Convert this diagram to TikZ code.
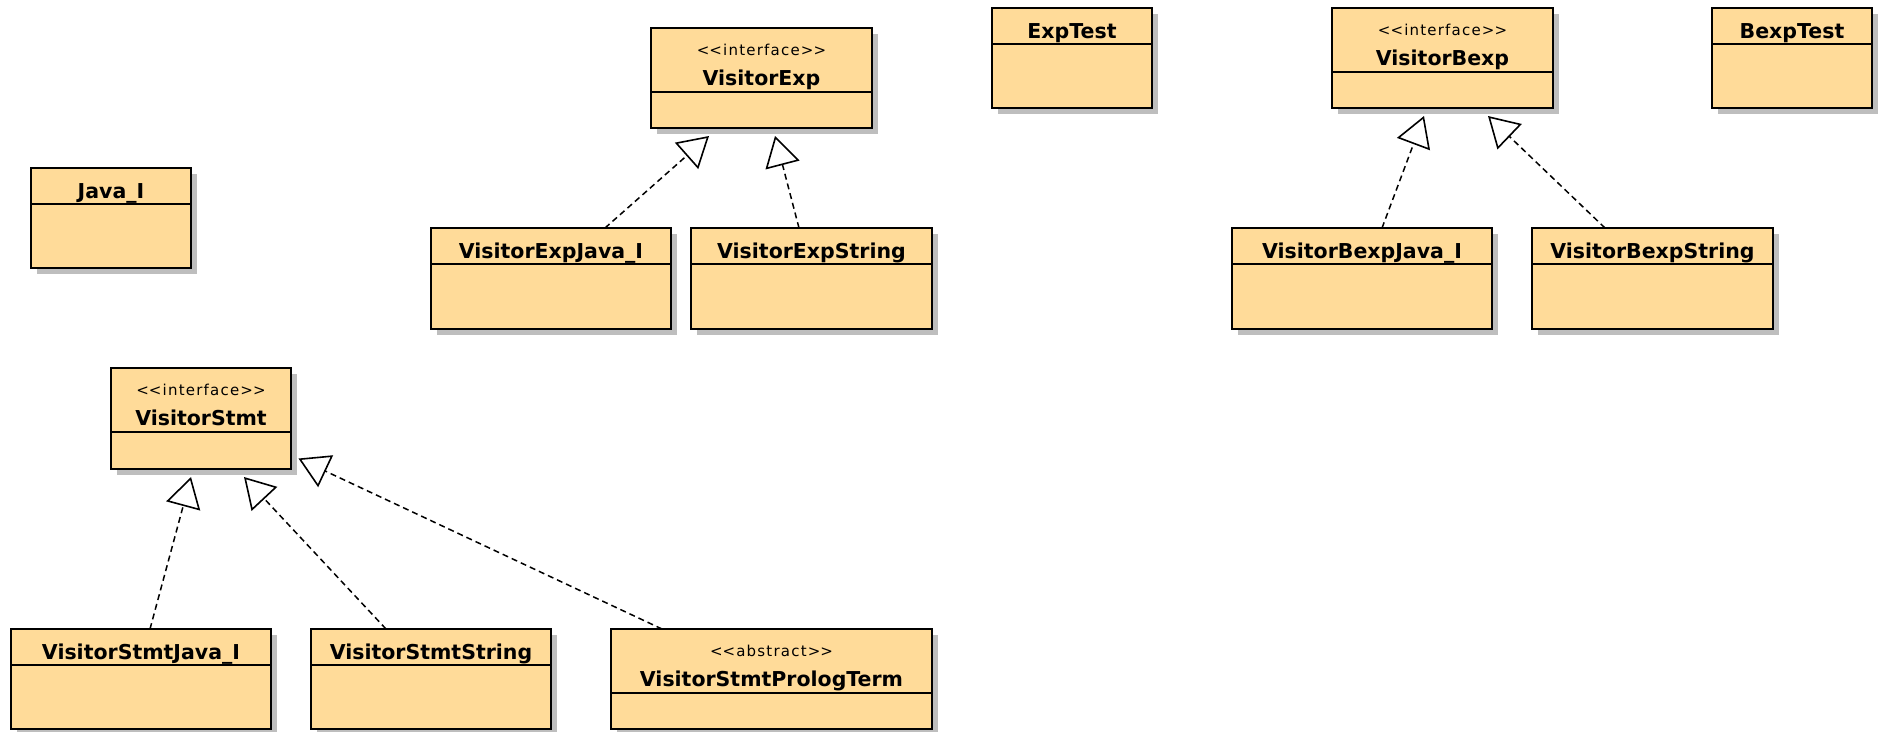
\documentclass[tikz,border=0pt]{standalone}
\usepackage{fontspec}
\setmainfont{DejaVu Sans}
\newfontfamily\stereofont[LetterSpace=8]{DejaVu Sans}
\usetikzlibrary{arrows.meta,shadows,calc}
\definecolor{classfill}{RGB}{255,219,153}
\definecolor{shadowgray}{RGB}{190,190,190}
\tikzset{
  classbox/.style={draw=black, line width=1.8pt, fill=classfill, rectangle,
    inner sep=0pt, outer sep=0pt, anchor=north west,
    general shadow={fill=shadowgray, shadow xshift=6pt, shadow yshift=-6pt}},
  divider/.style={draw=black, line width=1.6pt},
  titletext/.style={font=\fontsize{20.5}{20.5}\selectfont\bfseries, anchor=base, inner sep=0pt},
  stereotext/.style={font=\stereofont\fontsize{15}{15}\selectfont, anchor=base, inner sep=0pt},
  realize/.style={draw=black, line width=1.5pt, dash pattern=on 6pt off 4pt,
    -{Triangle[open, length=30pt, width=35pt, line width=1.6pt]}},
}
\newcommand{\umlclass}[6]{% id, x, y, w, h, title
  \node[classbox, minimum width=#4pt, minimum height=#5pt] (#1) at (#2,#3) {};
  \draw[divider] ($(#1.north west)+(0,36)$) -- ($(#1.north east)+(0,36)$);
  \node[titletext] (#1-title) at ($(#1.north)+(0,30)$) {#6};
}
\newcommand{\umliface}[7]{% id, x, y, w, h, stereotype, title
  \node[classbox, minimum width=#4pt, minimum height=#5pt] (#1) at (#2,#3) {};
  \draw[divider] ($(#1.north west)+(0,64)$) -- ($(#1.north east)+(0,64)$);
  \node[stereotext] (#1-stereo) at ($(#1.north)+(0,27)$) {#6};
  \node[titletext] (#1-title) at ($(#1.north)+(0,57)$) {#7};
}
\begin{document}
\begin{tikzpicture}[x=1pt, y=-1pt]
  \useasboundingbox[fill=white] (0,0) rectangle (1884,731);
  % simple classes
  \umlclass{java}{31}{168}{160}{100}{Java\_I}
  \umlclass{exptest}{992}{8}{160}{100}{ExpTest}
  \umlclass{bexptest}{1712}{8}{160}{100}{BexpTest}
  \umlclass{vejava}{431}{228}{240}{101}{VisitorExpJava\_I}
  \umlclass{vestring}{691}{228}{241}{101}{VisitorExpString}
  \umlclass{vbjava}{1232}{228}{260}{101}{VisitorBexpJava\_I}
  \umlclass{vbstring}{1532}{228}{241}{101}{VisitorBexpString}
  \umlclass{vsjava}{11}{629}{260}{100}{VisitorStmtJava\_I}
  \umlclass{vsstring}{311}{629}{240}{100}{VisitorStmtString}
  % interfaces / abstract
  \umliface{vexp}{651}{28}{221}{100}{<\kern0pt<interface>\kern0pt>}{VisitorExp}
  \umliface{vbexp}{1332}{8}{221}{100}{<\kern0pt<interface>\kern0pt>}{VisitorBexp}
  \umliface{vstmt}{111}{368}{180}{101}{<\kern0pt<interface>\kern0pt>}{VisitorStmt}
  \umliface{vsprolog}{611}{629}{321}{100}{<\kern0pt<abstract>\kern0pt>}{VisitorStmtPrologTerm}
  % realizations
  \draw[realize] ($(vejava.north west)+(174,0)$) -- ($(vexp.south west)+(58,8)$);
  \draw[realize] ($(vestring.north west)+(108,0)$) -- ($(vexp.south west)+(124,8)$);
  \draw[realize] ($(vbjava.north west)+(150,0)$) -- ($(vbexp.south west)+(92,8)$);
  \draw[realize] ($(vbstring.north west)+(73,0)$) -- ($(vbexp.south west)+(156,8)$);
  \draw[realize] ($(vsjava.north west)+(139,0)$) -- ($(vstmt.south west)+(80,8)$);
  \draw[realize] ($(vsstring.north west)+(75,0)$) -- ($(vstmt.south west)+(133,8)$);
  \draw[realize] ($(vsprolog.north west)+(51,0)$) -- ($(vstmt.south east)+(7.5,-10.5)$);
\end{tikzpicture}
\end{document}
